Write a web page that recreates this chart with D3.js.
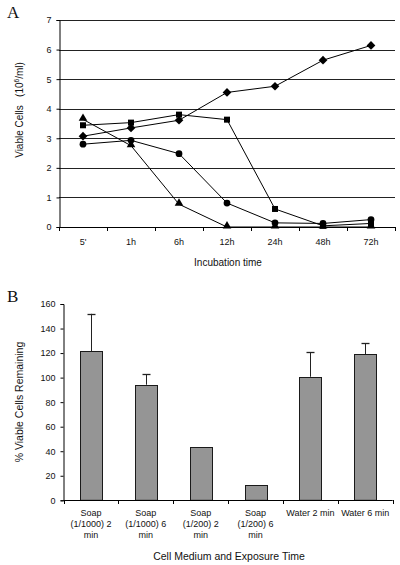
<!DOCTYPE html>
<html><head><meta charset="utf-8">
<script src="https://cdn.jsdelivr.net/npm/d3@7"></script>
<style>body{margin:0;background:#fff}svg{display:block}text{font-family:"Liberation Sans",Arial,sans-serif;fill:#111}</style>
</head><body>
<svg id="c" width="400" height="565"></svg>
<script>
// Panel A data
const timeLabels = ["5'", "1h", "6h", "12h", "24h", "48h", "72h"];
const diamondSeries = [3.07, 3.35, 3.61, 4.55, 4.76, 5.64, 6.14];
const squareSeries = [3.44, 3.53, 3.80, 3.63, 0.61, 0.04, 0.12];
const circleSeries = [2.80, 2.93, 2.48, 0.81, 0.14, 0.12, 0.25];
const triangleSeries = [3.64, 2.75, 0.77, 0, 0, 0, 0];
const yTicksA = [0, 1, 2, 3, 4, 5, 6, 7];

// Panel B data
const barLabels = ["Soap (1/1000) 2 min", "Soap (1/1000) 6 min", "Soap (1/200) 2 min", "Soap (1/200) 6 min", "Water 2 min", "Water 6 min"];
const barValues = [121.7, 94.2, 43.2, 12.2, 100.7, 119.2];
const barErrors = [30.3, 8.5, 0, 0, 19.9, 8.8];
const yTicksB = [0, 20, 40, 60, 80, 100, 120, 140, 160];

const svg = d3.select("#c");

// ---------- Panel A ----------
const xA = d3.scaleBand().domain(timeLabels).range([59, 395]).padding(0);
const yA = d3.scaleLinear().domain([0, 7]).range([227, 20]);
const gA = svg.append("g");

gA.selectAll("line.grid").data(yTicksA.filter(d => d > 0)).join("line")
  .attr("x1", 59).attr("x2", 395)
  .attr("y1", d => Math.round(yA(d)) + 0.5).attr("y2", d => Math.round(yA(d)) + 0.5)
  .attr("stroke", "#222").attr("stroke-width", 1);

const yAxA = gA.append("g").attr("transform", "translate(59.5,0)")
  .call(d3.axisLeft(yA).tickValues(yTicksA).tickSize(3).tickPadding(5).tickFormat(d3.format("d")));
yAxA.select(".domain").attr("stroke", "#000");
yAxA.selectAll(".tick line").attr("stroke", "#000");
yAxA.selectAll("text").style("font-size", "9px").attr("fill", "#111");

const xAxA = gA.append("g").attr("transform", `translate(0,${Math.round(yA(0)) + 0.5})`)
  .call(d3.axisBottom(xA).tickSize(0).tickPadding(11));
xAxA.select(".domain").attr("stroke", "#000").attr("d", `M59,0H395`);
xAxA.selectAll("text").style("font-size", "9px").attr("fill", "#111");
const boundsA = timeLabels.map(t => xA(t)).concat([xA(timeLabels[timeLabels.length - 1]) + xA.bandwidth()]);
gA.selectAll("line.xt").data(boundsA).join("line")
  .attr("x1", d => Math.round(d) + 0.5).attr("x2", d => Math.round(d) + 0.5)
  .attr("y1", Math.round(yA(0))).attr("y2", Math.round(yA(0)) + 4)
  .attr("stroke", "#000");

const cx = t => xA(t) + xA.bandwidth() / 2;
const seriesA = [
  {vals: squareSeries, sym: d3.symbolSquare, size: 36, rot: 0},
  {vals: circleSeries, sym: d3.symbolCircle, size: 36, rot: 0},
  {vals: triangleSeries, sym: d3.symbolTriangle, size: 32, rot: 0},
  {vals: diamondSeries, sym: d3.symbolSquare, size: 38, rot: 45}
];
const line = d3.line().x((d, i) => cx(timeLabels[i])).y(d => yA(d));
seriesA.forEach(s => {
  gA.append("path").attr("d", line(s.vals)).attr("fill", "none").attr("stroke", "#000").attr("stroke-width", 1);
});
seriesA.forEach(s => {
  gA.selectAll(null).data(s.vals).join("path")
    .attr("d", d3.symbol().type(s.sym).size(s.size))
    .attr("transform", (d, i) => {
      let y = yA(d);
      if (s.sym === d3.symbolTriangle) y -= 1;
      return `translate(${cx(timeLabels[i])},${y}) rotate(${s.rot})`;
    })
    .attr("fill", "#000");
});

svg.append("text").attr("x", 7).attr("y", 18).text("A")
  .style("font-family", "'Liberation Serif','Times New Roman',serif").style("font-size", "17px");
const yl = svg.append("text").attr("transform", "translate(23,110) rotate(-90)").attr("text-anchor", "middle")
  .style("font-size", "10px").style("white-space", "pre");
yl.append("tspan").text("Viable Cells   (10");
yl.append("tspan").text("6").style("font-size", "6.5px").attr("dy", -4);
yl.append("tspan").text("/ml)").attr("dy", 4);
svg.append("text").attr("x", 228).attr("y", 266).attr("text-anchor", "middle").style("font-size", "10px").text("Incubation time");

// ---------- Panel B ----------
const xB = d3.scaleBand().domain(barLabels).range([63.5, 392.7]).padding(0);
const yB = d3.scaleLinear().domain([0, 160]).range([500.3, 304]);
const gB = svg.append("g");
const bw = xB.bandwidth() * 0.4;

gB.selectAll("rect.bar").data(barValues).join("rect")
  .attr("x", (d, i) => Math.round(xB(barLabels[i]) + xB.bandwidth() / 2 - bw / 2) + 0.5)
  .attr("y", d => Math.round(yB(d)) + 0.5)
  .attr("width", Math.round(bw))
  .attr("height", d => yB(0) - Math.round(yB(d)) - 0.5)
  .attr("fill", "#959595").attr("stroke", "#1a1a1a").attr("stroke-width", 1);

barValues.forEach((v, i) => {
  const e = barErrors[i];
  if (!e) return;
  const x = Math.round(xB(barLabels[i]) + xB.bandwidth() / 2) + 0.5;
  gB.append("line").attr("x1", x).attr("x2", x).attr("y1", yB(v)).attr("y2", yB(v + e)).attr("stroke", "#222");
  gB.append("line").attr("x1", x - 4).attr("x2", x + 4).attr("y1", Math.round(yB(v + e)) + 0.5).attr("y2", Math.round(yB(v + e)) + 0.5).attr("stroke", "#222").attr("stroke-width", 1.3);
});

const yAxB = gB.append("g").attr("transform", "translate(63.5,0)")
  .call(d3.axisLeft(yB).tickValues(yTicksB).tickSize(3).tickPadding(5));
yAxB.select(".domain").attr("stroke", "#000");
yAxB.selectAll(".tick line").attr("stroke", "#000");
yAxB.selectAll("text").style("font-size", "9px").attr("fill", "#111");

gB.append("line").attr("x1", 63.5).attr("x2", 392.7).attr("y1", Math.round(yB(0)) + 0.5).attr("y2", Math.round(yB(0)) + 0.5).attr("stroke", "#000");
const boundsB = barLabels.map(t => xB(t)).concat([392.7]);
gB.selectAll("line.xt").data(boundsB).join("line")
  .attr("x1", d => Math.round(d) + 0.5).attr("x2", d => Math.round(d) + 0.5)
  .attr("y1", Math.round(yB(0))).attr("y2", Math.round(yB(0)) + 4)
  .attr("stroke", "#000");

barLabels.forEach(lbl => {
  const t = gB.append("text").attr("text-anchor", "middle").style("font-size", "9px")
    .attr("x", xB(lbl) + xB.bandwidth() / 2).attr("y", 516);
  const words = lbl.split(" ");
  let lineWords = [];
  let ts = t.append("tspan").attr("x", xB(lbl) + xB.bandwidth() / 2).attr("dy", 0);
  words.forEach(w => {
    lineWords.push(w);
    ts.text(lineWords.join(" "));
    if (ts.node().getComputedTextLength() > 52 && lineWords.length > 1) {
      lineWords.pop();
      ts.text(lineWords.join(" "));
      lineWords = [w];
      ts = t.append("tspan").attr("x", xB(lbl) + xB.bandwidth() / 2).attr("dy", 11).text(w);
    }
  });
});

svg.append("text").attr("x", 7).attr("y", 302).text("B")
  .style("font-family", "'Liberation Serif','Times New Roman',serif").style("font-size", "17px");
svg.append("text").attr("transform", "translate(23,402) rotate(-90)").attr("text-anchor", "middle").style("font-size", "10.5px").text("% Viable Cells Remaining");
svg.append("text").attr("x", 229).attr("y", 560).attr("text-anchor", "middle").style("font-size", "10.5px").text("Cell Medium and Exposure Time");
</script>
</body></html>
